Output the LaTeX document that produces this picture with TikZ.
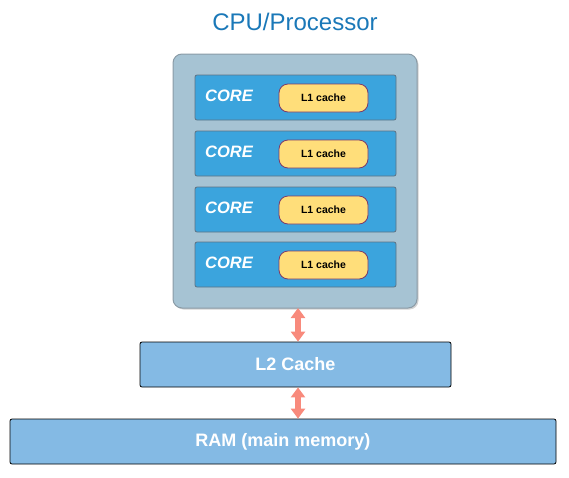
\documentclass[tikz,border=0pt]{standalone}
\usepackage{fontspec}
\setmainfont{Liberation Sans}
\usetikzlibrary{arrows.meta,shadows}
\definecolor{cpufill}{HTML}{A6C3D3}
\definecolor{cpuborder}{HTML}{8A9BA6}
\definecolor{corefill}{HTML}{3BA4DD}
\definecolor{coreborder}{HTML}{5E7384}
\definecolor{lonefill}{HTML}{FFDE7A}
\definecolor{loneborder}{HTML}{7B3A6A}
\definecolor{memfill}{HTML}{84BAE4}
\definecolor{titlecol}{HTML}{1A78B8}
\definecolor{arrcol}{HTML}{F88A7C}
\tikzset{
  cpubox/.style={draw=cpuborder, fill=cpufill, line width=1pt, rounded corners=9pt, drop shadow={shadow xshift=1.5pt, shadow yshift=-1.5pt, opacity=0.35}},
  corebox/.style={draw=coreborder, fill=corefill, line width=0.8pt, rounded corners=2pt, minimum width=201pt, minimum height=45pt, inner sep=0pt},
  lonebox/.style={draw=loneborder, fill=lonefill, line width=0.8pt, rounded corners=9pt, minimum width=89pt, minimum height=28pt, inner sep=0pt, font=\fontsize{10.5}{12}\selectfont\bfseries},
  corelabel/.style={text=white, font=\fontsize{16.5}{19}\selectfont\bfseries\itshape, inner sep=0pt},
  membox/.style={draw=black, fill=memfill, line width=0.8pt, rounded corners=2pt, inner sep=0pt, minimum height=45pt, text=white, font=\fontsize{18}{21}\selectfont\bfseries},
  busarrow/.style={arrcol, line width=6pt, {Triangle[length=10pt,width=14pt]}-{Triangle[length=10pt,width=14pt]}}
}
\begin{document}
\begin{tikzpicture}[x=1pt,y=-1pt]
\useasboundingbox (0,0) rectangle (569,477);
\node[text=titlecol, font=\fontsize{24}{28}\selectfont, inner sep=0pt] (title) at (295,22) {CPU/Processor};
\draw[cpubox] (173,54) rectangle (417,308);
\coordinate (cputop) at (298,54);
\coordinate (cpubot) at (298,308);
\foreach \i/\y in {1/97.5,2/153.5,3/209.5,4/264.5}{
  \node[corebox] (core\i) at (295.5,\y) {};
  \node[corelabel] (corelab\i) at (229,\y-1.5) {CORE};
  \node[lonebox] (lone\i) at (323.5,\y+0.5) {L1 cache};
}
\node[membox, minimum width=311pt] (ltwo) at (295.5,364.5) {L2 Cache};
\node[membox, minimum width=546pt] (ram) at (283,441.5) {RAM (main memory)};
\draw[busarrow] (cpubot) -- (ltwo.north -| cpubot);
\draw[busarrow] (ltwo.south -| cpubot) -- (ram.north -| cpubot);
\end{tikzpicture}
\end{document}
